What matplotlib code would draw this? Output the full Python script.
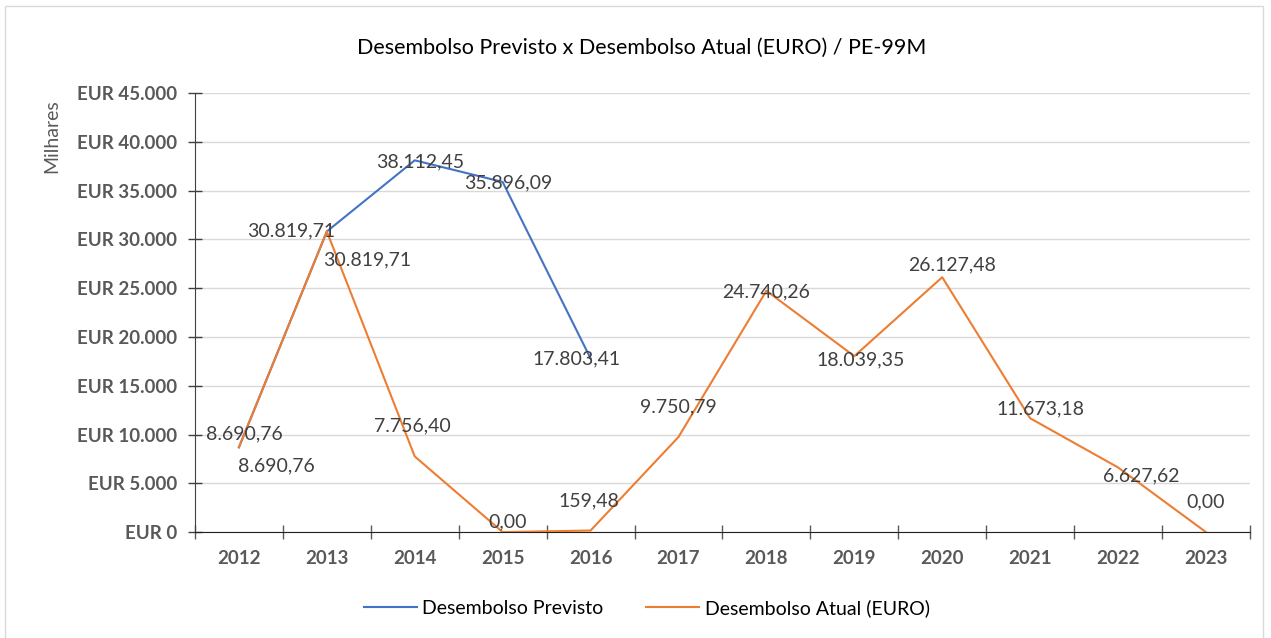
import matplotlib.pyplot as plt
import numpy as np

plt.rcParams['font.family'] = ['Lato', 'DejaVu Sans']

anos = ['2012', '2013', '2014', '2015', '2016', '2017', '2018', '2019', '2020', '2021', '2022', '2023']
previsto = [8690.76, 30819.71, 38112.45, 35896.09, 17803.41]
atual = [8690.76, 30819.71, 7756.40, 0.00, 159.48, 9750.79, 24740.26, 18039.35, 26127.48, 11673.18, 6627.62, 0.00]

def fmt_br(v):
    s = '{:,.2f}'.format(v)
    return s.replace(',', 'X').replace('.', ',').replace('X', '.')

azul = '#4472C4'
laranja = '#ED7D31'
cinza = '#595959'

fig = plt.figure(figsize=(12.71, 6.38), dpi=100)
ax = fig.add_axes([0.1534, 0.166, 0.83, 0.688])

x = np.arange(len(anos))
ax.plot(x[:len(previsto)], previsto, color=azul, lw=1.5, label='Desembolso Previsto', zorder=3)
ax.plot(x, atual, color=laranja, lw=1.5, label='Desembolso Atual (EURO)', zorder=3)

# deslocamentos dos rotulos (pixels)
off_prev = [(5, 13), (-36, 1), (5, -2), (6, -1), (-14, 0)]
off_atual = [(37, -19), (40, -28), (-2, 31), (5, 10), (-2, 30), (0, 30), (0, -1), (6, -4), (10, 12), (10, 9), (23, -8), (0, 30)]

for i, v in enumerate(previsto):
    ax.annotate(fmt_br(v), (x[i], v), xytext=off_prev[i], textcoords='offset pixels',
                ha='center', va='center', fontsize=14, color='#404040', zorder=4)
for i, v in enumerate(atual):
    ax.annotate(fmt_br(v), (x[i], v), xytext=off_atual[i], textcoords='offset pixels',
                ha='center', va='center', fontsize=14, color='#404040', zorder=4)

ax.set_xlim(-0.5, len(anos) - 0.5)
ax.set_ylim(0, 45000)
yt = np.arange(0, 45001, 5000)
ax.set_yticks(yt)
ax.set_yticklabels(['EUR 0'] + ['EUR {:,}'.format(int(t)).replace(',', '.') for t in yt[1:]])
ax.set_xticks(np.arange(-0.5, len(anos), 1))
ax.set_xticklabels([])
ax.set_xticks(x, minor=True)
ax.set_xticklabels(anos, minor=True)
ax.tick_params(axis='x', which='minor', length=0, pad=13)
ax.tick_params(axis='x', which='major', direction='inout', length=10, width=1, color='#595959')
ax.tick_params(axis='y', direction='inout', length=10, width=1, color='#404040', pad=8)
for lbl in ax.get_yticklabels() + ax.get_xticklabels(minor=True):
    lbl.set_fontweight('bold')
    lbl.set_color(cinza)
    lbl.set_fontsize(13.5)

ax.grid(axis='y', color='#D9D9D9', lw=1)
ax.set_axisbelow(True)
for s in ['top', 'right']:
    ax.spines[s].set_visible(False)
ax.spines['left'].set_color('#404040')
ax.spines['bottom'].set_color('#202020')

fig.text(0.041, 0.787, 'Milhares', rotation=90, ha='center', va='center', fontsize=14, color=cinza)
fig.text(0.505, 0.925, 'Desembolso Previsto x Desembolso Atual (EURO) / PE-99M',
         ha='center', va='center', fontsize=15.5, color='#000000')

fig.legend(loc='center', bbox_to_anchor=(0.509, 0.047), ncol=2, frameon=False,
           fontsize=14, handlelength=2.7, handletextpad=0.3, columnspacing=2.2)

fig.patches.append(plt.Rectangle((0.004, -0.01), 0.99, 1.0, transform=fig.transFigure,
                                 fill=False, edgecolor='#D9D9D9', lw=1))

fig.savefig('out.png', dpi=100)
